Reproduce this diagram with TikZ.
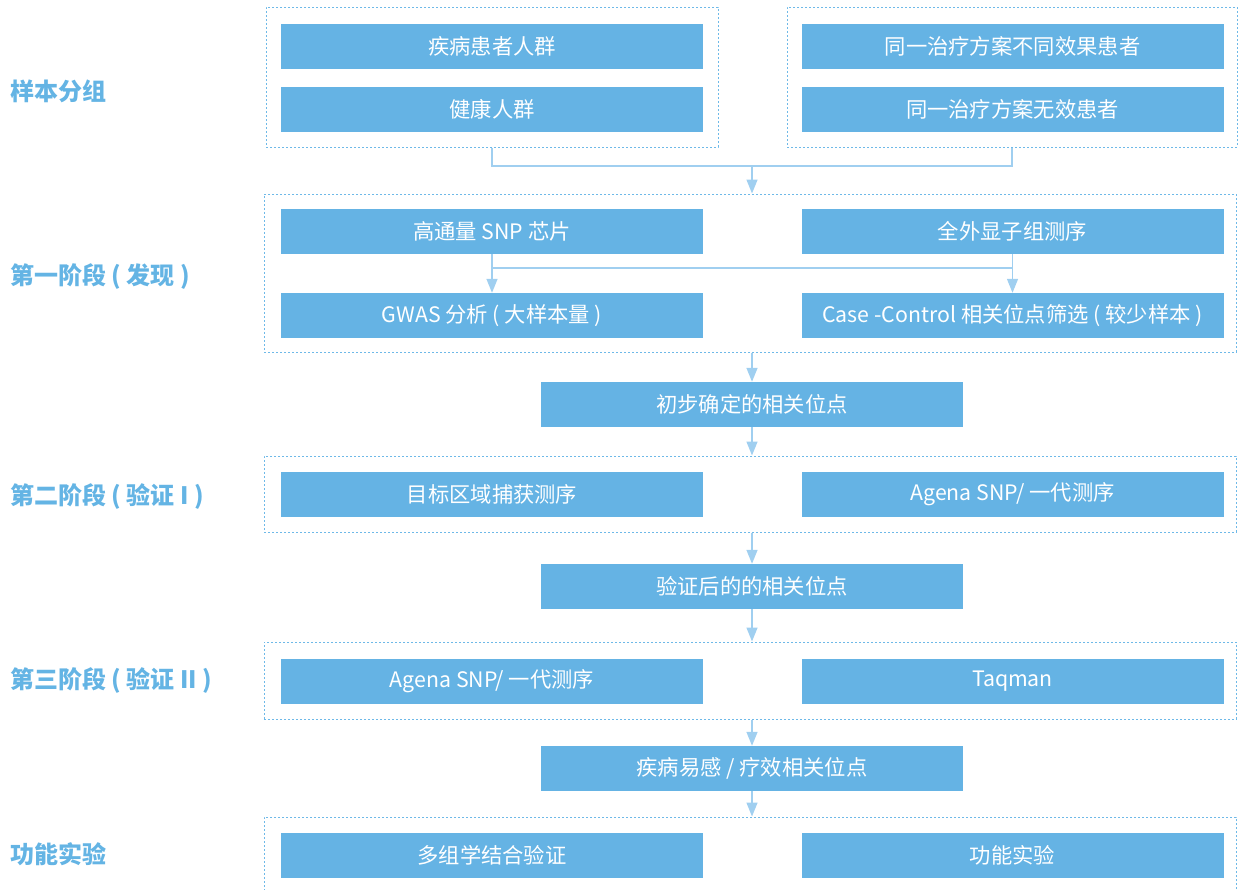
\documentclass[tikz,border=0pt]{standalone}
\usepackage{fontspec}
\setmainfont{Noto Sans CJK SC}
\newfontfamily\cjk{Noto Sans CJK SC}
\usetikzlibrary{arrows.meta}
\definecolor{boxc}{RGB}{101,179,228}
\definecolor{dotc}{RGB}{110,185,232}
\definecolor{linec}{RGB}{160,207,240}
\definecolor{labc}{RGB}{100,180,228}
\tikzset{
  stepbox/.style={rectangle, fill=boxc, draw=none, minimum width=422pt, minimum height=45pt, inner sep=0pt, text=white, font=\cjk\fontsize{21.3}{25}\selectfont},
  grp/.style={rectangle, draw=dotc, line width=1pt, dash pattern=on 2pt off 2pt, inner sep=0pt},
  lab/.style={anchor=west, inner sep=0pt, text=labc, font=\cjk\bfseries\fontsize{24}{27}\selectfont},
  conn/.style={draw=linec, line width=1.4pt},
  arr/.style={conn, -{Triangle[width=11pt,length=14pt]}},
}
\begin{document}
\begin{tikzpicture}[x=1pt,y=-1pt]
\useasboundingbox (0,0) rectangle (1239,889);
\clip (0,0) rectangle (1239,889);
% groups
\node[grp, minimum width=452pt, minimum height=140pt] (g0l) at (492,77) {};
\node[grp, minimum width=450pt, minimum height=140pt] (g0r) at (1012,77) {};
\node[grp, minimum width=972pt, minimum height=158pt] (g1) at (750,273) {};
\node[grp, minimum width=972pt, minimum height=76pt] (g2) at (750,494) {};
\node[grp, minimum width=972pt, minimum height=77pt] (g3) at (750,680.5) {};
\node[grp, minimum width=972pt, minimum height=80pt] (g4) at (750,857) {};
% labels
\node[lab] (l0) at (10,91) {样本分组};
\node[lab] (l1) at (10,277) {第一阶段 ( 发现 )};
\node[lab] (l2) at (10,496) {第二阶段 ( 验证 I )};
\node[lab] (l3) at (10,680) {第三阶段 ( 验证 II )};
\node[lab] (l4) at (10,854) {功能实验};
% boxes
\node[stepbox] (s1) at (492,46.5) {疾病患者人群};
\node[stepbox] (s2) at (492,109.5) {健康人群};
\node[stepbox] (s3) at (1012.5,46.5) {同一治疗方案不同效果患者};
\node[stepbox] (s4) at (1012.5,109.5) {同一治疗方案无效患者};
\node[stepbox] (a1) at (492,231.5) {高通量 SNP 芯片};
\node[stepbox] (b1) at (1012.5,231.5) {全外显子组测序};
\node[stepbox] (a2) at (492,315.5) {GWAS 分析 ( 大样本量 )};
\node[stepbox] (b2) at (1012.5,315.5) {Case -Control 相关位点筛选 ( 较少样本 )};
\node[stepbox] (c1) at (752,404.5) {初步确定的相关位点};
\node[stepbox] (a3) at (492,494.5) {目标区域捕获测序};
\node[stepbox] (b3) at (1012.5,494.5) {Agena SNP/ 一代测序};
\node[stepbox] (c2) at (752,586.5) {验证后的的相关位点};
\node[stepbox] (a4) at (492,681) {Agena SNP/ 一代测序};
\node[stepbox] (b4) at (1012.5,681) {Taqman};
\node[stepbox] (c3) at (752,768.5) {疾病易感 / 疗效相关位点};
\node[stepbox] (a5) at (492,855.5) {多组学结合验证};
\node[stepbox] (b5) at (1012.5,855.5) {功能实验};
% connectors
\coordinate (j0) at (752,166);
\draw[conn] (g0l.south) |- (j0) -| (g0r.south);
\draw[arr] (j0) -- (j0 |- g1.north);
\coordinate (j1) at (492,268);
\draw[arr] (a1.south) -- (a2.north);
\draw[arr] (b1.south) -- (b2.north);
\draw[conn] (j1) -- (j1 -| b1.south);
\draw[arr] (g1.south -| c1) -- (c1.north);
\draw[arr] (c1.south) -- (c1.south |- g2.north);
\draw[arr] (g2.south -| c2) -- (c2.north);
\draw[arr] (c2.south) -- (c2.south |- g3.north);
\draw[arr] (g3.south -| c3) -- (c3.north);
\draw[arr] (c3.south) -- (c3.south |- g4.north);
\end{tikzpicture}
\end{document}
